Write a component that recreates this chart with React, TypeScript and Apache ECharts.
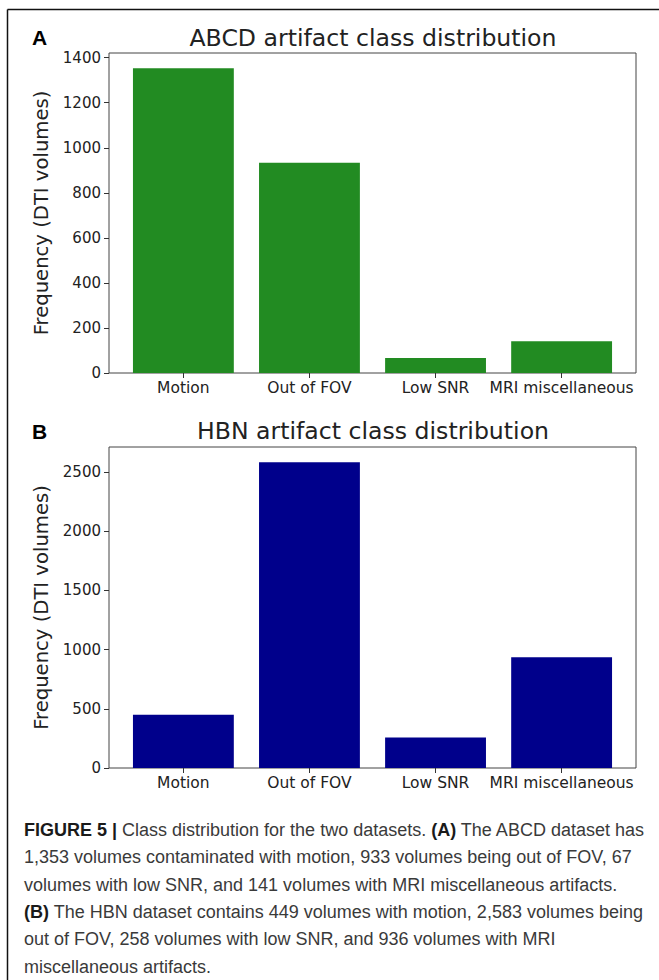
import React, { useEffect, useRef } from "react";
import * as echarts from "echarts";

const categories = ["Motion", "Out of FOV", "Low SNR", "MRI miscellaneous"];
const abcdValues = [1353, 933, 67, 141];
const hbnValues = [449, 2583, 258, 936];
const abcdTicks = [0, 200, 400, 600, 800, 1000, 1200, 1400];
const hbnTicks = [0, 500, 1000, 1500, 2000, 2500];
const categoryPositions = [0, 1, 2, 3];
const captionLines = [
  "{b|FIGURE 5 |} Class distribution for the two datasets. {b|(A)} The ABCD dataset has",
  "1,353 volumes contaminated with motion, 933 volumes being out of FOV, 67",
  "volumes with low SNR, and 141 volumes with MRI miscellaneous artifacts.",
  "{b|(B)} The HBN dataset contains 449 volumes with motion, 2,583 volumes being",
  "out of FOV, 258 volumes with low SNR, and 936 volumes with MRI",
  "miscellaneous artifacts.",
];

const MPL = "DejaVu Sans";

function xAxisCfg(gridIndex: number) {
  return {
    type: "value",
    gridIndex,
    min: -0.59,
    max: 3.59,
    splitLine: { show: false },
    axisLine: { show: false, onZero: false },
    axisTick: {
      show: true,
      customValues: categoryPositions,
      length: 5,
      lineStyle: { color: "#333" },
    },
    axisLabel: {
      customValues: categoryPositions,
      formatter: (v: number) => categories[Math.round(v)] ?? "",
      fontFamily: MPL,
      fontSize: 15.5,
      color: "#222",
      margin: 7,
    },
  };
}

function yAxisCfg(gridIndex: number, max: number, ticks: number[]) {
  return {
    type: "value",
    gridIndex,
    min: 0,
    max,
    splitLine: { show: false },
    axisLine: { show: false, onZero: false },
    axisTick: {
      show: true,
      customValues: ticks,
      length: 5,
      lineStyle: { color: "#333" },
    },
    axisLabel: {
      customValues: ticks,
      formatter: (v: number) => String(v),
      fontFamily: MPL,
      fontSize: 15,
      color: "#222",
      margin: 8,
    },
    name: "Frequency (DTI volumes)",
    nameLocation: "middle",
    nameRotate: 90,
    nameGap: 54,
    nameTextStyle: { fontFamily: MPL, fontSize: 19.6, color: "#222" },
  };
}

export default function App() {
  const ref = useRef<HTMLDivElement>(null);
  useEffect(() => {
    if (!ref.current) return;
    const chart = echarts.init(ref.current, null, { renderer: "svg" });
    const maxA = Math.max(...abcdValues) * 1.05;
    const maxB = Math.max(...hbnValues) * 1.05;
    const graphics: any[] = [
      { type: "line", shape: { x1: 7.5, y1: 9.5, x2: 659, y2: 9.5 }, style: { stroke: "#111", lineWidth: 1.5 } },
      { type: "line", shape: { x1: 7.5, y1: 9.5, x2: 7.5, y2: 980 }, style: { stroke: "#111", lineWidth: 1.5 } },
      {
        type: "text", x: 32, y: 37,
        style: { text: "A", font: "bold 21px 'Liberation Sans'", fill: "#000", textVerticalAlign: "middle" },
      },
      {
        type: "text", x: 32, y: 431,
        style: { text: "B", font: "bold 21px 'Liberation Sans'", fill: "#000", textVerticalAlign: "middle" },
      },
      {
        type: "text", x: 373, y: 38,
        style: { text: "ABCD artifact class distribution", font: `23.6px '${MPL}'`, fill: "#222", textAlign: "center", textVerticalAlign: "middle" },
      },
      {
        type: "text", x: 373, y: 431,
        style: { text: "HBN artifact class distribution", font: `23.6px '${MPL}'`, fill: "#222", textAlign: "center", textVerticalAlign: "middle" },
      },
    ];
    captionLines.forEach((line, i) => {
      graphics.push({
        type: "text",
        x: 24,
        y: 830 + i * 27.3,
        style: {
          text: line,
          fontFamily: "Liberation Sans",
          fontSize: 18,
          fill: "#3a3a3a",
          textVerticalAlign: "middle",
          rich: {
            b: { fontFamily: "Liberation Sans", fontSize: 18, fontWeight: "bold", fill: "#1a1a1a" },
          },
        },
      });
    });

    chart.setOption({
      animation: false,
      backgroundColor: "#fff",
      grid: [
        { left: 109, top: 53, width: 527, height: 320, show: true, borderColor: "#444", borderWidth: 1, backgroundColor: "transparent" },
        { left: 109, top: 447, width: 527, height: 321, show: true, borderColor: "#444", borderWidth: 1, backgroundColor: "transparent" },
      ],
      xAxis: [xAxisCfg(0), xAxisCfg(1)],
      yAxis: [yAxisCfg(0, maxA, abcdTicks), yAxisCfg(1, maxB, hbnTicks)],
      series: [
        {
          type: "bar",
          xAxisIndex: 0,
          yAxisIndex: 0,
          barWidth: "80%",
          data: abcdValues.map((v, i) => [categoryPositions[i], v]),
          itemStyle: { color: "#228B22" },
        },
        {
          type: "bar",
          xAxisIndex: 1,
          yAxisIndex: 1,
          barWidth: "80%",
          data: hbnValues.map((v, i) => [categoryPositions[i], v]),
          itemStyle: { color: "#00008B" },
        },
      ],
      graphic: graphics,
    });
    return () => chart.dispose();
  }, []);
  return (
    <div
      ref={ref}
      style={{ position: "absolute", left: 0, top: 0, width: 659, height: 980 }}
    />
  );
}
